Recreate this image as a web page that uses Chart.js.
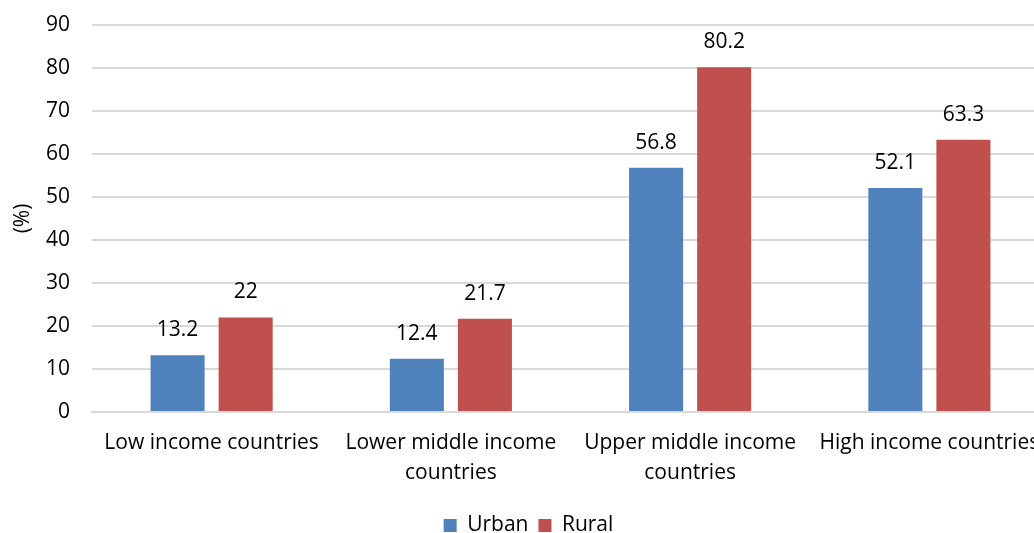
<!DOCTYPE html>
<html>
<head>
<meta charset="utf-8">
<script src="https://cdn.jsdelivr.net/npm/chart.js@4/dist/chart.umd.min.js"></script>
<style>
  html, body { margin: 0; padding: 0; background: #fff; overflow: hidden; }
  #wrap { width: 1050px; height: 533px; position: relative; }
</style>
</head>
<body>
<div id="wrap"><canvas id="chart"></canvas></div>
<script>
const categories = [
    'Low income countries',
    ['Lower middle income', 'countries'],
    ['Upper middle income', 'countries'],
    'High income countries'
];
const urbanValues = [13.2, 12.4, 56.8, 52.1];
const ruralValues = [22, 21.7, 80.2, 63.3];
const yMin = 0;
const yMax = 90;
const yStep = 10;

const FONT = "'Open Sans', sans-serif";
const SIZE = 21;
const TEXT = '#000000';

// simple value labels above each bar (no datalabels plugin available offline)
const valueLabels = {
    id: 'valueLabels',
    afterDatasetsDraw(chart) {
        const ctx = chart.ctx;
        ctx.save();
        ctx.font = SIZE + 'px ' + FONT;
        ctx.fillStyle = TEXT;
        ctx.textAlign = 'center';
        ctx.textBaseline = 'middle';
        chart.data.datasets.forEach((ds, i) => {
            chart.getDatasetMeta(i).data.forEach((bar, j) => {
                ctx.fillText(String(ds.data[j]), bar.x, bar.y - 25);
            });
        });
        ctx.restore();
    }
};

const ctx = document.getElementById('chart').getContext('2d');
new Chart(ctx, {
    type: 'bar',
    plugins: [valueLabels],
    data: {
        labels: categories,
        datasets: [
            {
                label: 'Urban',
                data: urbanValues,
                backgroundColor: '#4F81BD',
                barPercentage: 0.794,
                categoryPercentage: 0.569
            },
            {
                label: 'Rural',
                data: ruralValues,
                backgroundColor: '#C0504D',
                barPercentage: 0.794,
                categoryPercentage: 0.569
            }
        ]
    },
    options: {
        responsive: true,
        maintainAspectRatio: false,
        animation: false,
        layout: {
            padding: { top: 25, right: 1, left: 8, bottom: -13 }
        },
        plugins: {
            legend: {
                position: 'bottom',
                labels: {
                    font: { family: FONT, size: SIZE },
                    color: TEXT,
                    boxWidth: 13,
                    boxHeight: 13,
                    padding: 10
                }
            },
            tooltip: { enabled: false }
        },
        scales: {
            x: {
                grid: { display: false, drawTicks: false },
                border: { color: '#d9d9d9', width: 2 },
                ticks: {
                    font: { family: FONT, size: SIZE, lineHeight: 1.43 },
                    color: TEXT,
                    maxRotation: 0,
                    autoSkip: false,
                    padding: 16
                },
                afterFit(scale) {
                    scale.height = 93;
                    scale.paddingLeft = 0;
                    scale.paddingRight = 0;
                }
            },
            y: {
                min: yMin,
                max: yMax,
                grid: { color: '#d9d9d9', lineWidth: 2, drawTicks: false },
                border: { display: false },
                ticks: {
                    stepSize: yStep,
                    font: { family: FONT, size: SIZE },
                    color: TEXT,
                    padding: 22
                },
                title: {
                    display: true,
                    text: '(%)',
                    font: { family: FONT, size: SIZE },
                    color: TEXT,
                    padding: 2
                },
                afterFit(scale) {
                    scale.width = 84;
                    scale.paddingTop = 0;
                    scale.paddingBottom = 0;
                }
            }
        }
    }
});
</script>
</body>
</html>
